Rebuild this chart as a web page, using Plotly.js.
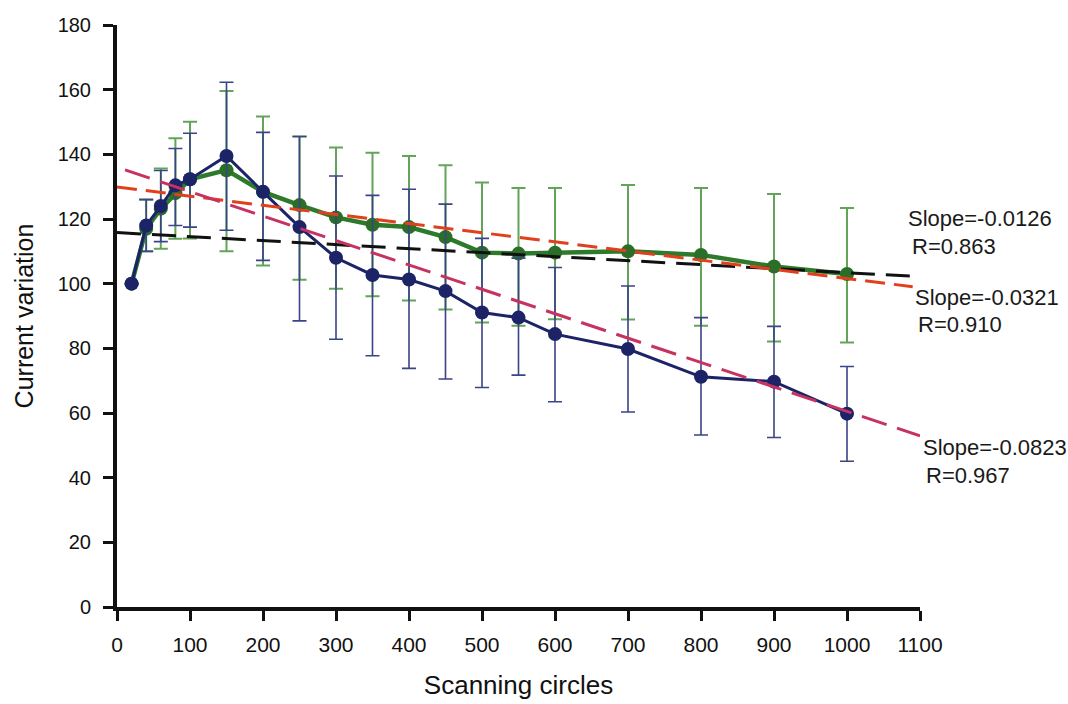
<!DOCTYPE html>
<html>
<head>
<meta charset="utf-8">
<script src="https://cdn.plot.ly/plotly-3.0.1.min.js"></script>
<style>html,body{margin:0;padding:0;background:#fff}#chart{width:1068px;height:704px}</style>
</head>
<body>
<div id="chart"></div>
<script>
// Scanning circles (x)
const cycles = [20, 40, 60, 80, 100, 150, 200, 250, 300, 350, 400, 450, 500, 550, 600, 700, 800, 900, 1000];

// Blue series (mean, upper error, lower error)
const blueMean  = [100, 118, 124, 130.4, 132.3, 139.5, 128.4, 117.5, 108, 102.7, 101.3, 97.7, 91.1, 89.5, 84.4, 79.8, 71.2, 69.7, 59.8];
const blueUpper = [0, 8, 11, 11.4, 14.2, 22.8, 18.4, 28, 25.3, 24.6, 27.9, 26.9, 22.9, 18.4, 20.6, 19.5, 18.3, 17.1, 14.6];
const blueLower = [0, 8, 11, 12.4, 14.8, 23, 21.2, 29, 25.2, 25, 27.5, 27.2, 23.2, 17.8, 20.9, 19.5, 18, 17.3, 14.7];

// Green series (mean, upper error, lower error)
const greenMean  = [100, 117, 123.2, 128, 132.3, 135.1, 128.4, 124.3, 120.5, 118.2, 117.5, 114.4, 109.6, 109.3, 109.6, 110, 108.9, 105.3, 103];
const greenUpper = [0, 9, 12.4, 17, 17.8, 24.5, 23.3, 21.2, 21.6, 22.3, 22, 22.2, 21.7, 20.3, 20, 20.5, 20.7, 22.4, 20.4];
const greenLower = [0, 7, 12.4, 14.1, 18.3, 25.1, 22.8, 23.1, 22.1, 22.1, 22.7, 22.4, 21.6, 22.3, 20.6, 21.1, 21.9, 23.2, 21.2];

// Linear fits: [intercept, slope, xStart, xEnd]
const fitGreen = [115.8, -0.0124, 0, 1090];   // black dashed
const fitMid   = [129.9, -0.0283, 0, 1090];   // orange-red dashed
const fitBlue  = [136.0, -0.0755, 11, 1100];  // crimson dashed

// Fit labels (text, left-edge pixel x, centre pixel y)
const labelText = ['Slope=-0.0126', 'R=0.863', 'Slope=-0.0321', 'R=0.910', 'Slope=-0.0823', 'R=0.967'];
const labelPx   = [906, 910, 913, 916, 921, 924];
const labelPy   = [218, 246, 297, 325, 447, 475];

const W = 1068, H = 704;
const M = {l: 117, r: 148, t: 25, b: 97};

function fitTrace(f, color, dash, width) {
  const xs = [f[2], f[3]];
  return {
    x: xs, y: xs.map(v => f[0] + f[1] * v),
    mode: 'lines', type: 'scatter', cliponaxis: false,
    line: {color: color, dash: dash, width: width},
    hoverinfo: 'skip', showlegend: false
  };
}

const traces = [
  {
    x: cycles, y: greenMean, type: 'scatter', mode: 'lines+markers',
    line: {color: '#2e7a2c', width: 4.5},
    marker: {color: '#2a6e28', size: 14},
    error_y: {type: 'data', symmetric: false, array: greenUpper, arrayminus: greenLower,
              color: '#62a458', thickness: 2, width: 7},
    showlegend: false, cliponaxis: false
  },
  {
    x: cycles, y: blueMean, type: 'scatter', mode: 'lines+markers',
    line: {color: '#1c2366', width: 3},
    marker: {color: '#1c2366', size: 14},
    error_y: {type: 'data', symmetric: false, array: blueUpper, arrayminus: blueLower,
              color: '#3a4488', thickness: 1.6, width: 7},
    showlegend: false, cliponaxis: false
  },
  fitTrace(fitGreen, '#111111', '24px,11px', 3),
  fitTrace(fitMid, '#e2401c', '20px,9px', 3),
  fitTrace(fitBlue, '#c83260', '26px,11px', 3)
];

const layout = {
  width: W, height: H,
  margin: M,
  paper_bgcolor: '#ffffff', plot_bgcolor: '#ffffff',
  font: {family: 'Liberation Sans, Arial, sans-serif', color: '#111111', size: 20},
  xaxis: {
    range: [0, 1100], tickvals: [0,100,200,300,400,500,600,700,800,900,1000,1100],
    showgrid: false, zeroline: false, showline: true, linecolor: '#111111', linewidth: 4,
    ticks: 'outside', ticklen: 10, tickwidth: 3, tickcolor: '#111111',
    ticklabelstandoff: 6,
    tickfont: {size: 21},
    title: {text: 'Scanning circles', font: {size: 26}, standoff: 22}
  },
  yaxis: {
    range: [0, 180], tickvals: [0,20,40,60,80,100,120,140,160,180],
    showgrid: false, zeroline: false, showline: true, linecolor: '#111111', linewidth: 4,
    ticks: 'outside', ticklen: 10, tickwidth: 3, tickcolor: '#111111',
    ticklabelstandoff: 8,
    tickfont: {size: 20},
    title: {text: 'Current variation', font: {size: 25}, standoff: 18}
  },
  annotations: labelText.map((t, i) => ({
    text: t,
    x: (labelPx[i] - M.l) / (W - M.l - M.r),
    y: (H - M.b - labelPy[i]) / (H - M.t - M.b),
    xref: 'paper', yref: 'paper',
    xanchor: 'left', yanchor: 'middle', showarrow: false,
    font: {size: 22, color: '#1a1a1a'}
  }))
};

Plotly.newPlot('chart', traces, layout, {displayModeBar: false, staticPlot: true});
</script>
</body>
</html>
